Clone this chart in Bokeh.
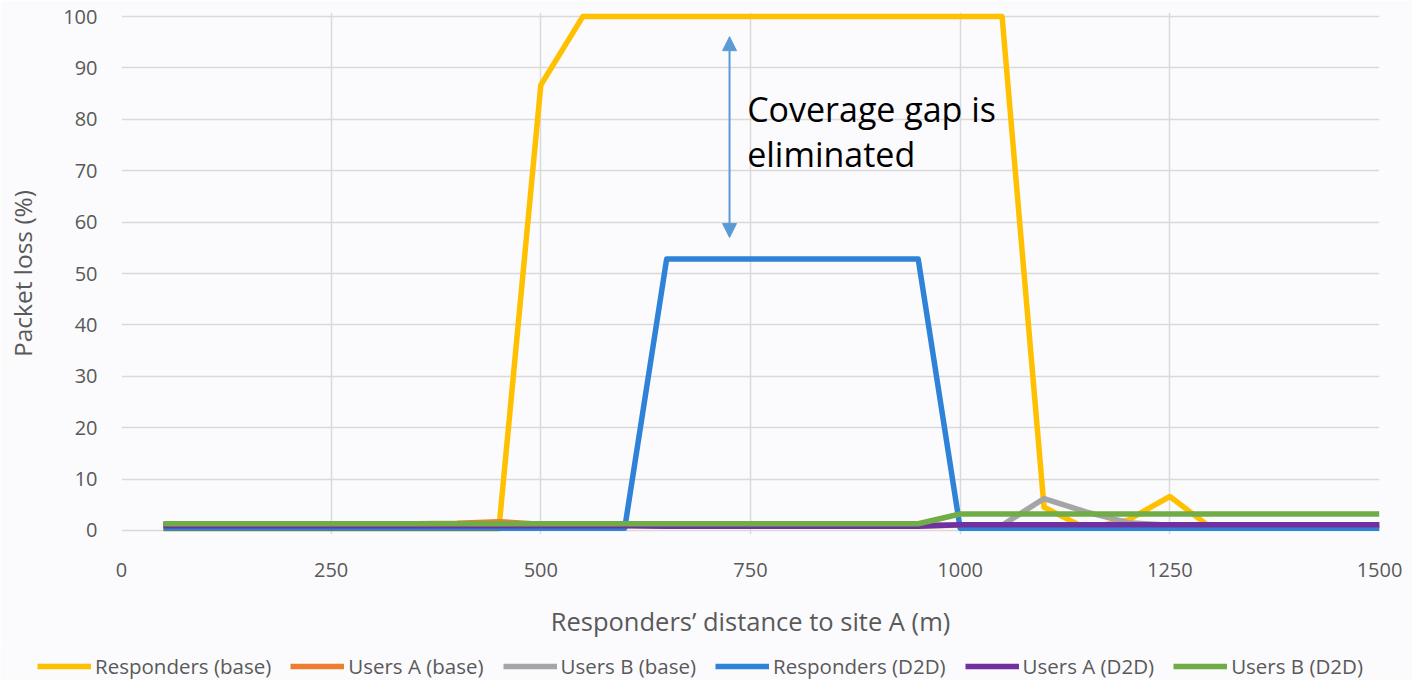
from bokeh.plotting import figure
from bokeh.layouts import column
from bokeh.models import (ColumnDataSource, Legend, LegendItem, FixedTicker, Arrow,
                          NormalHead, Label, Range1d)
from bokeh.embed import file_html
from bokeh.resources import INLINE

# ---------------- data ----------------
distance = [50, 100, 150, 200, 250, 300, 350, 400, 450, 500,
            550, 600, 650, 700, 750, 800, 850, 900, 950, 1000,
            1050, 1100, 1150, 1200, 1250, 1300, 1350, 1400, 1450, 1500]

responders_base = [0.3, 0.3, 0.3, 0.3, 0.3, 0.3, 0.3, 0.3, 0.3, 86.7,
                   100, 100, 100, 100, 100, 100, 100, 100, 100, 100,
                   100, 4.5, 0.4, 2.0, 6.6, 0.4, 0.4, 0.4, 0.4, 0.4]
users_a_base = [1.2, 1.2, 1.2, 1.2, 1.2, 1.3, 1.3, 1.4, 1.7, 1.2,
                1.0, 1.0, 0.9, 0.9, 0.9, 0.9, 0.9, 0.9, 0.9, 1.0,
                1.0, 1.0, 1.0, 1.0, 1.0, 1.0, 1.0, 1.0, 1.0, 1.0]
users_b_base = [1.2, 1.2, 1.2, 1.2, 1.2, 1.2, 1.2, 1.2, 1.2, 1.2,
                1.2, 1.2, 1.2, 1.2, 1.2, 1.2, 1.2, 1.2, 1.2, 1.0,
                1.0, 6.2, 3.6, 1.5, 1.0, 1.0, 1.0, 1.0, 1.0, 1.0]
responders_d2d = [0.4, 0.4, 0.4, 0.4, 0.4, 0.4, 0.4, 0.4, 0.4, 0.4,
                  0.4, 0.4, 52.8, 52.8, 52.8, 52.8, 52.8, 52.8, 52.8, 0.4,
                  0.4, 0.4, 0.4, 0.4, 0.4, 0.4, 0.4, 0.4, 0.4, 0.4]
users_a_d2d = [0.9, 0.9, 0.9, 0.9, 0.9, 0.9, 0.9, 0.9, 0.9, 0.9,
               0.9, 0.9, 0.8, 0.8, 0.8, 0.8, 0.8, 0.8, 0.8, 1.1,
               1.1, 1.1, 1.1, 1.1, 1.1, 1.1, 1.1, 1.1, 1.1, 1.1]
users_b_d2d = [1.3, 1.3, 1.3, 1.3, 1.3, 1.3, 1.3, 1.3, 1.3, 1.3,
               1.3, 1.3, 1.3, 1.3, 1.3, 1.3, 1.3, 1.3, 1.3, 3.2,
               3.2, 3.2, 3.2, 3.2, 3.2, 3.2, 3.2, 3.2, 3.2, 3.2]

series_names = ["Responders (base)", "Users A (base)", "Users B (base)",
                "Responders (D2D)", "Users A (D2D)", "Users B (D2D)"]
series_values = [responders_base, users_a_base, users_b_base,
                 responders_d2d, users_a_d2d, users_b_d2d]
series_colors = ["#FFC000", "#ED7D31", "#A5A5A5", "#2E83D8", "#7030A0", "#70AD47"]

x_ticks = [0, 250, 500, 750, 1000, 1250, 1500]
y_ticks = [0, 10, 20, 30, 40, 50, 60, 70, 80, 90, 100]

annotation_text = ["Coverage gap is", "eliminated"]

# ---------------- main figure ----------------
FONT = "Open Sans"
TXT = "#595959"
BG = "#FBFBFD"

p = figure(width=1412, height=646, output_backend="svg", toolbar_location=None,
           x_range=Range1d(0, 1500), y_range=Range1d(-0.8, 100.8),
           min_border_left=121, min_border_right=33, min_border_top=12,
           min_border_bottom=112)
p.frame_align = False
p.background_fill_color = BG
p.border_fill_color = BG
p.outline_line_color = None

for name, vals, col in zip(series_names, series_values, series_colors):
    src = ColumnDataSource(dict(x=distance, y=vals))
    p.line("x", "y", source=src, line_color=col, line_width=5.5,
           line_join="round", line_cap="butt")

p.xaxis.ticker = FixedTicker(ticks=x_ticks)
p.yaxis.ticker = FixedTicker(ticks=y_ticks)
for ax in (p.xaxis[0], p.yaxis[0]):
    ax.axis_line_color = None
    ax.major_tick_line_color = None
    ax.minor_tick_line_color = None
    ax.major_tick_in = 0
    ax.major_tick_out = 0
    ax.minor_tick_in = 0
    ax.minor_tick_out = 0
    ax.major_label_text_font = FONT
    ax.major_label_text_font_size = "20px"
    ax.major_label_text_color = TXT
    ax.axis_label_text_font = FONT
    ax.axis_label_text_font_style = "normal"
    ax.axis_label_text_color = TXT

p.xaxis.axis_label = "Responders’ distance to site A (m)"
p.yaxis.axis_label = "Packet loss (%)"
p.xaxis.axis_label_text_font_size = "25.5px"
p.yaxis.axis_label_text_font_size = "24.5px"
p.xaxis.major_label_standoff = 28
p.xaxis.axis_label_standoff = 24
p.yaxis.major_label_standoff = 24
p.yaxis.axis_label_standoff = 21

p.xgrid.ticker = FixedTicker(ticks=x_ticks)
p.ygrid.ticker = FixedTicker(ticks=y_ticks)
p.xgrid.grid_line_color = "#D9D9D9"
p.ygrid.grid_line_color = "#D9D9D9"
p.xgrid.grid_line_width = 1.5
p.ygrid.grid_line_width = 1.5

ARROW_C = "#5B9BD5"
arrow = Arrow(x_start=725, y_start=76, x_end=725, y_end=96.1,
              line_color=ARROW_C, line_width=2,
              end=NormalHead(size=14, fill_color=ARROW_C, line_color=ARROW_C))
arrow2 = Arrow(x_start=725, y_start=76, x_end=725, y_end=57.0,
               line_color=ARROW_C, line_width=2,
               end=NormalHead(size=14, fill_color=ARROW_C, line_color=ARROW_C))
p.add_layout(arrow)
p.add_layout(arrow2)
for txt, yy in zip(annotation_text, [82.0, 73.2]):
    p.add_layout(Label(x=746, y=yy, text=txt, text_font=FONT,
                       text_font_size="34px", text_color="#000000",
                       text_baseline="alphabetic", text_align="left"))

# ---------------- legend strip ----------------
lg = figure(width=1412, height=34, output_backend="svg", toolbar_location=None,
            x_range=Range1d(0, 1), y_range=Range1d(0, 1),
            x_axis_location=None, y_axis_location=None, min_border=0)
lg.frame_align = False
lg.grid.visible = False
lg.outline_line_color = None
lg.background_fill_color = BG
lg.border_fill_color = BG
items = []
for name, col in zip(series_names, series_colors):
    r = lg.line(x=[5, 6], y=[5, 6], line_color=col, line_width=5.5)
    items.append(LegendItem(label=name, renderers=[r]))
legend = Legend(items=items, orientation="horizontal", location=(37, 0),
                glyph_width=54, glyph_height=14, label_standoff=4, spacing=19,
                label_text_font=FONT, label_text_font_size="20.5px",
                label_text_color=TXT, background_fill_alpha=0,
                border_line_color=None, margin=0, padding=0)
lg.add_layout(legend)

layout = column(p, lg, spacing=0)
open("out.html", "w").write(file_html(layout, INLINE))
